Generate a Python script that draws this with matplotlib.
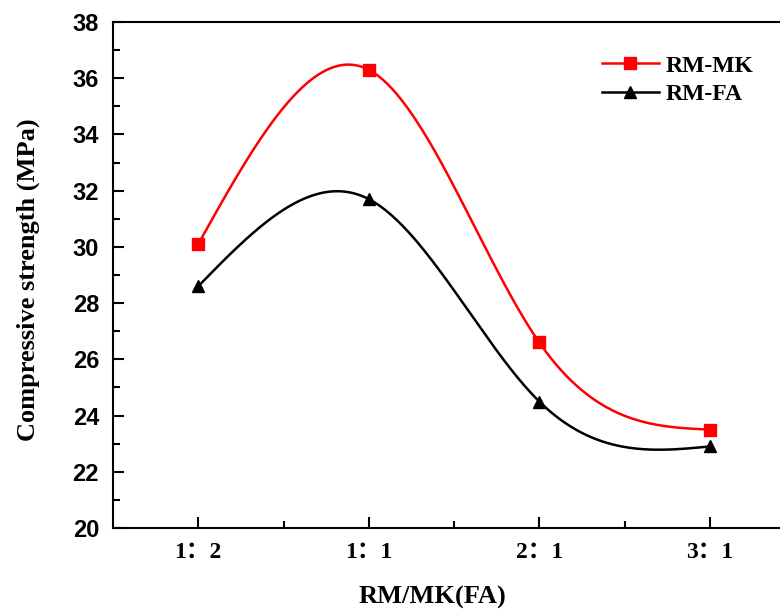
import numpy as np
import matplotlib
matplotlib.use("Agg")
import matplotlib.pyplot as plt
from matplotlib.ticker import MultipleLocator

# data
ratios = ["1：2", "1：1", "2：1", "3：1"]
rm_mk = [30.1, 36.3, 26.6, 23.5]
rm_fa = [28.6, 31.7, 24.5, 22.9]


def natural_spline(y, num=300):
    # natural cubic spline through equally spaced points (x = 0, 1, 2, ...)
    y = np.asarray(y, dtype=float)
    n = len(y)
    A = np.zeros((n, n))
    b = np.zeros(n)
    A[0, 0] = 1
    A[-1, -1] = 1
    for i in range(1, n - 1):
        A[i, i - 1:i + 2] = [1, 4, 1]
        b[i] = 6 * (y[i + 1] - 2 * y[i] + y[i - 1])
    M = np.linalg.solve(A, b)
    xs = np.linspace(0, n - 1, num)
    idx = np.clip(np.floor(xs).astype(int), 0, n - 2)
    t = xs - idx
    ys = (y[idx] * (1 - t) + y[idx + 1] * t
          + M[idx] / 6 * ((1 - t) ** 3 - (1 - t))
          + M[idx + 1] / 6 * (t ** 3 - t))
    return xs, ys


fig = plt.figure(figsize=(7.8, 6.12), dpi=100)
# axes deliberately run past the right edge like the original
ax = fig.add_axes([113 / 780, 1 - 528 / 612, 682 / 780, 506 / 612])

x = np.arange(len(ratios))
lwh = 1.8

xs, ys = natural_spline(rm_mk)
ax.plot(xs, ys, color="#ff0000", lw=lwh)
xs, ys = natural_spline(rm_fa)
ax.plot(xs, ys, color="black", lw=lwh)

ax.plot(x, rm_mk, "s", color="#ff0000", ms=8, clip_on=False)
ax.plot(x, rm_fa, "^", color="black", ms=9, clip_on=False)

# legend proxies
ax.plot([], [], "-s", color="#ff0000", lw=lwh, ms=8, label="RM-MK")
ax.plot([], [], "-^", color="black", lw=lwh, ms=9, label="RM-FA")

ax.set_xlim(-0.5, 3.5)
ax.set_ylim(20, 38)
ax.set_xticks(x)
ax.set_xticklabels(ratios, family=["Liberation Serif", "Noto Sans CJK SC"],
                   fontweight="bold", fontsize=17)
ax.set_xticks(x + 0.5, minor=True)
ax.yaxis.set_major_locator(MultipleLocator(2))
ax.yaxis.set_minor_locator(MultipleLocator(1))
for lab in ax.get_yticklabels():
    lab.set_family("Liberation Sans")
    lab.set_fontweight("bold")
    lab.set_fontsize(17)

ax.tick_params(which="major", direction="in", length=8, width=1.5, pad=10)
ax.tick_params(which="minor", direction="in", length=5, width=1.5)
for sp in ax.spines.values():
    sp.set_linewidth(1.5)

ax.set_xlabel("RM/MK(FA)", family="Liberation Serif", fontweight="bold",
              fontsize=19)
ax.set_ylabel("Compressive strength (MPa)", family="Liberation Serif",
              fontweight="bold", fontsize=19)
ax.xaxis.set_label_coords(432 / 780, 1 - 586 / 612, transform=fig.transFigure)
ax.yaxis.set_label_coords(40 / 780, 1 - 280 / 612, transform=fig.transFigure)

ax.legend(loc="upper left", bbox_to_anchor=(602 / 780, 1 - 55 / 612),
          bbox_transform=fig.transFigure, frameon=False,
          prop={"family": "Liberation Serif", "weight": "bold", "size": 17},
          handlelength=2.4, handletextpad=0.3, labelspacing=0.3,
          borderpad=0, borderaxespad=0)

fig.savefig("out.png", dpi=100)
